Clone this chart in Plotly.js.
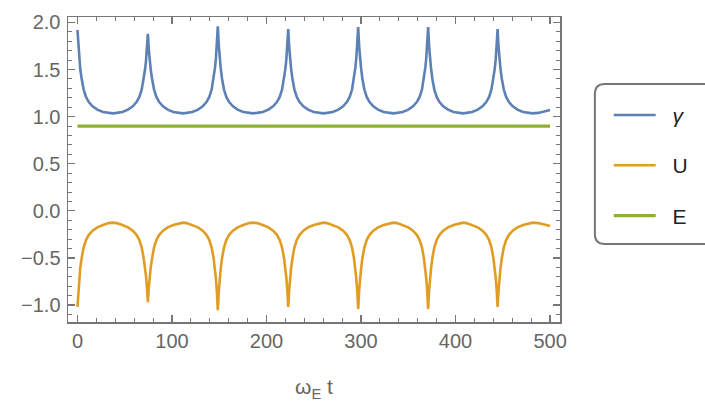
<!DOCTYPE html>
<html>
<head>
<meta charset="utf-8">
<script src="https://cdn.plot.ly/plotly-3.0.1.min.js"></script>
<style>html,body{margin:0;padding:0;background:#fff;}#chart{width:705px;height:405px;}</style>
</head>
<body>
<div id="chart"></div>
<script>
// time axis (omega_E t)
const t = [
  0, 1, 2, 3, 4.5, 6.5, 9, 12, 16, 21, 27, 33, 37.25,
  41.5, 47.5, 53.5, 58.5, 62.5, 65.5, 68, 70, 71.5, 72.5, 73.5, 74.5, 75.5, 76.5, 77.5, 79, 81, 83.5, 86.5, 90.5, 95.5, 101.5, 107.5, 111.5,
  115.5, 121.5, 127.5, 132.5, 136.5, 139.5, 142, 144, 145.5, 146.5, 147.5, 148.5, 149.5, 150.5, 151.5, 153, 155, 157.5, 160.5, 164.5, 169.5, 175.5, 181.5, 185.75,
  190, 196, 202, 207, 211, 214, 216.5, 218.5, 220, 221, 222, 223, 224, 225, 226, 227.5, 229.5, 232, 235, 239, 244, 250, 256, 260,
  264, 270, 276, 281, 285, 288, 290.5, 292.5, 294, 295, 296, 297, 298, 299, 300, 301.5, 303.5, 306, 309, 313, 318, 324, 330, 334,
  338, 344, 350, 355, 359, 362, 364.5, 366.5, 368, 369, 370, 371, 372, 373, 374, 375.5, 377.5, 380, 383, 387, 392, 398, 404, 407.75,
  411.5, 417.5, 423.5, 428.5, 432.5, 435.5, 438, 440, 441.5, 442.5, 443.5, 444.5, 445.5, 446.5, 447.5, 449, 451, 453.5, 456.5, 460.5, 465.5, 471.5, 477.5, 481.5,
  487.5, 491.5, 495, 497.5, 500
];
const gamma = [
  1.92, 1.73, 1.60, 1.50, 1.40, 1.29, 1.21, 1.155, 1.11, 1.075, 1.05, 1.04, 1.035,
  1.04, 1.05, 1.075, 1.11, 1.155, 1.21, 1.29, 1.40, 1.50, 1.59, 1.71, 1.88, 1.71, 1.59, 1.50, 1.40, 1.29, 1.21, 1.155, 1.11, 1.075, 1.05, 1.04, 1.035,
  1.04, 1.05, 1.075, 1.11, 1.155, 1.21, 1.29, 1.40, 1.52, 1.62, 1.76, 1.96, 1.76, 1.62, 1.52, 1.40, 1.29, 1.21, 1.155, 1.11, 1.075, 1.05, 1.04, 1.035,
  1.04, 1.05, 1.075, 1.11, 1.155, 1.21, 1.29, 1.40, 1.51, 1.61, 1.74, 1.93, 1.74, 1.61, 1.51, 1.40, 1.29, 1.21, 1.155, 1.11, 1.075, 1.05, 1.04, 1.035,
  1.04, 1.05, 1.075, 1.11, 1.155, 1.21, 1.29, 1.40, 1.52, 1.62, 1.75, 1.95, 1.75, 1.62, 1.52, 1.40, 1.29, 1.21, 1.155, 1.11, 1.075, 1.05, 1.04, 1.035,
  1.04, 1.05, 1.075, 1.11, 1.155, 1.21, 1.29, 1.40, 1.52, 1.62, 1.75, 1.95, 1.75, 1.62, 1.52, 1.40, 1.29, 1.21, 1.155, 1.11, 1.075, 1.05, 1.04, 1.035,
  1.04, 1.05, 1.075, 1.11, 1.155, 1.21, 1.29, 1.40, 1.51, 1.61, 1.74, 1.93, 1.74, 1.61, 1.51, 1.40, 1.29, 1.21, 1.155, 1.11, 1.075, 1.05, 1.04, 1.035,
  1.04, 1.048, 1.055, 1.062, 1.07
];
const U = [
  -1.02, -0.83, -0.70, -0.60, -0.50, -0.39, -0.31, -0.255, -0.21, -0.175, -0.15, -0.13, -0.125,
  -0.13, -0.15, -0.175, -0.21, -0.255, -0.31, -0.39, -0.50, -0.60, -0.69, -0.81, -0.97, -0.81, -0.69, -0.60, -0.50, -0.39, -0.31, -0.255, -0.21, -0.175, -0.15, -0.13, -0.125,
  -0.13, -0.15, -0.175, -0.21, -0.255, -0.31, -0.39, -0.50, -0.62, -0.72, -0.86, -1.055, -0.86, -0.72, -0.62, -0.50, -0.39, -0.31, -0.255, -0.21, -0.175, -0.15, -0.13, -0.125,
  -0.13, -0.15, -0.175, -0.21, -0.255, -0.31, -0.39, -0.50, -0.61, -0.71, -0.84, -1.02, -0.84, -0.71, -0.61, -0.50, -0.39, -0.31, -0.255, -0.21, -0.175, -0.15, -0.13, -0.125,
  -0.13, -0.15, -0.175, -0.21, -0.255, -0.31, -0.39, -0.50, -0.62, -0.72, -0.85, -1.04, -0.85, -0.72, -0.62, -0.50, -0.39, -0.31, -0.255, -0.21, -0.175, -0.15, -0.13, -0.125,
  -0.13, -0.15, -0.175, -0.21, -0.255, -0.31, -0.39, -0.50, -0.62, -0.72, -0.85, -1.04, -0.85, -0.72, -0.62, -0.50, -0.39, -0.31, -0.255, -0.21, -0.175, -0.15, -0.13, -0.125,
  -0.13, -0.15, -0.175, -0.21, -0.255, -0.31, -0.39, -0.50, -0.61, -0.71, -0.84, -1.02, -0.84, -0.71, -0.61, -0.50, -0.39, -0.31, -0.255, -0.21, -0.175, -0.15, -0.13, -0.125,
  -0.13, -0.14, -0.148, -0.154, -0.16
];
const tE = [0, 500];
const E = [0.9, 0.9];
const seriesNames = ['<i>γ</i>', 'U', 'E'];
const xTicks = [0, 100, 200, 300, 400, 500];
const yTicks = [-1.0, -0.5, 0.0, 0.5, 1.0, 1.5, 2.0];

const colors = ['#5E81B5', '#E19C24', '#8FB032'];
const tickFont = {family: 'Liberation Sans, Arial, sans-serif', size: 20, color: '#666666'};

const traces = [
  {x: t, y: gamma, name: '&nbsp;&nbsp;' + seriesNames[0], legendgroup: 'g', mode: 'lines', line: {color: colors[0], width: 2.6}},
  {x: t, y: U, name: '&nbsp;&nbsp;' + seriesNames[1], legendgroup: 'u', mode: 'lines', line: {color: colors[1], width: 2.6}},
  {x: tE, y: E, name: '&nbsp;&nbsp;' + seriesNames[2], legendgroup: 'e', mode: 'lines', line: {color: colors[2], width: 3.2}}
];

const axisCommon = {
  showgrid: false, zeroline: false, showline: true, mirror: 'allticks',
  linecolor: '#777777', linewidth: 1.5,
  ticks: 'inside', ticklen: 7, tickwidth: 1.2, tickcolor: '#777777',
  tickfont: tickFont
};

const layout = {
  width: 705, height: 405,
  margin: {l: 68, r: 143, t: 17, b: 83},
  paper_bgcolor: '#ffffff', plot_bgcolor: '#ffffff',
  showlegend: true,
  xaxis: Object.assign({}, axisCommon, {
    range: [-10, 510.5], tickmode: 'array', tickvals: xTicks, ticktext: xTicks.map(String),
    minor: {dtick: 20, tick0: 0, ticks: 'inside', ticklen: 4, tickwidth: 1, tickcolor: '#777777'},
    title: {text: 'ω<sub>E</sub> t', font: {family: 'Liberation Sans, Arial, sans-serif', size: 21, color: '#666666'}, standoff: 29}
  }),
  yaxis: Object.assign({}, axisCommon, {
    range: [-1.18, 2.058], tickmode: 'array', tickvals: yTicks, ticktext: yTicks.map(v => v.toFixed(1).replace('-', '−')),
    minor: {dtick: 0.1, tick0: 0, ticks: 'inside', ticklen: 4, tickwidth: 1, tickcolor: '#777777'},
    ticklabelstandoff: 2
  }),
  legend: {
    x: 1.099, y: 0.745, xanchor: 'left', yanchor: 'top',
    bgcolor: 'rgba(0,0,0,0)', borderwidth: 0,
    font: {family: 'Liberation Sans, Arial, sans-serif', size: 21, color: '#222222'},
    traceorder: 'grouped', tracegroupgap: 20, itemwidth: 42
  },
  shapes: [{
    type: 'path', xref: 'paper', yref: 'paper',
    path: 'M 1.3036 0.7803 L 1.0911 0.7803 Q 1.0709 0.7803 1.0709 0.7475 L 1.0709 0.2885 Q 1.0709 0.2557 1.0911 0.2557 L 1.3036 0.2557',
    line: {color: '#777777', width: 2}, fillcolor: 'rgba(0,0,0,0)'
  }]
};

Plotly.newPlot('chart', traces, layout, {displayModeBar: false, staticPlot: true});
</script>
</body>
</html>
